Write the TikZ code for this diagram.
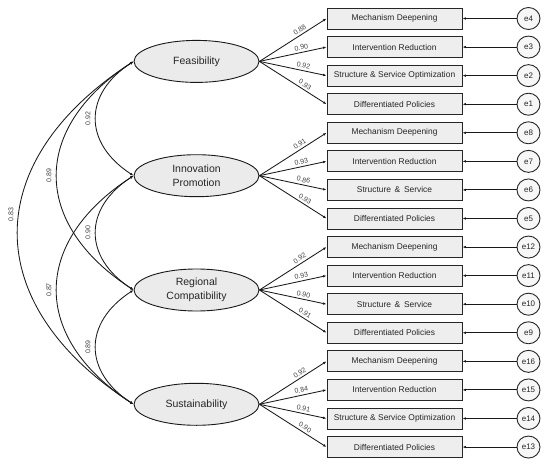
\documentclass[tikz,border=0pt]{standalone}
\usepackage{fontspec}
\setmainfont{Liberation Sans}
\usetikzlibrary{arrows.meta,shapes.geometric}
\begin{document}
\begin{tikzpicture}[x=1pt,y=-1pt,
  lat/.style={ellipse, draw=black!90, fill=gray!16, line width=0.9pt, minimum width=125pt, minimum height=42pt, inner sep=0pt, font=\fontsize{10.5}{14}\selectfont, text=black!85, align=center},
  ind/.style={rectangle, draw=black!85, fill=gray!13, line width=0.9pt, minimum width=135pt, minimum height=21pt, inner sep=0pt, font=\fontsize{8.4}{10}\selectfont, text=black!85},
  err/.style={ellipse, draw=black!85, fill=gray!6, line width=0.9pt, minimum width=23pt, minimum height=22pt, inner sep=0pt, font=\fontsize{8}{10}\selectfont, text=black!85},
  tip/.tip={Latex[length=3.5pt,width=2.6pt]},
  arr/.style={-tip, line width=0.85pt, draw=black!90},
  cov/.style={tip-tip, line width=0.85pt, draw=black!90},
  lab/.style={font=\fontsize{7}{8}\selectfont, text=black!75, inner sep=0.3pt},
  clab/.style={font=\fontsize{7}{8}\selectfont, text=black!75, inner sep=5pt, rotate=90, anchor=south},
]
\useasboundingbox (0,0) rectangle (550,466);

% latent variables
\node[lat] (F) at (196.5,61.4) {Feasibility};
\node[lat] (I) at (196.5,175.7) {Innovation\\Promotion};
\node[lat] (R) at (196.5,290) {Regional\\Compatibility};
\node[lat] (S) at (196.5,404.3) {Sustainability};

% indicators and errors
\foreach \k/\txt/\e in {
  1/Mechanism Deepening/e4, 2/Intervention Reduction/e3, 3/Structure \& Service Optimization/e2, 4/Differentiated Policies/e1,
  5/Mechanism Deepening/e8, 6/Intervention Reduction/e7, 7/Structure~\,\&~\,Service/e6, 8/Differentiated Policies/e5,
  9/Mechanism Deepening/e12, 10/Intervention Reduction/e11, 11/Structure~\,\&~\,Service/e10, 12/Differentiated Policies/e9,
  13/Mechanism Deepening/e16, 14/Intervention Reduction/e15, 15/Structure \& Service Optimization/e14, 16/Differentiated Policies/e13}
{
  \node[ind] (i\k) at (394.5,{18.5+28.57*(\k-1)}) {\txt};
  \node[err] (e\k) at (528.5,{18.5+28.57*(\k-1)}) {\e};
  \draw[arr] (e\k) -- (i\k);
}

% loadings
\foreach \src/\k/\v in {
  F/1/0.88, F/2/0.90, F/3/0.92, F/4/0.93,
  I/5/0.91, I/6/0.93, I/7/0.86, I/8/0.93,
  R/9/0.92, R/10/0.93, R/11/0.90, R/12/0.91,
  S/13/0.92, S/14/0.84, S/15/0.91, S/16/0.90}
{
  \draw[arr] (\src.east) -- node[lab, pos=0.64, sloped, above=1.8pt] {\v} (i\k.west);
}

% covariances
\draw[cov] (F.west) to[out=213,in=147,distance=60pt] node[clab, midway] {0.92} (I.west);
\draw[cov] (F.west) to[out=213,in=147,distance=122pt] node[clab, midway] {0.89} (R.west);
\draw[cov] (F.west) to[out=213,in=147,distance=184pt] node[clab, pos=0.45] {0.83} (S.west);
\draw[cov] (I.west) to[out=213,in=147,distance=60pt] node[clab, midway] {0.90} (R.west);
\draw[cov] (I.west) to[out=213,in=147,distance=122pt] node[clab, midway] {0.87} (S.west);
\draw[cov] (R.west) to[out=213,in=147,distance=60pt] node[clab, midway] {0.89} (S.west);
\end{tikzpicture}
\end{document}
